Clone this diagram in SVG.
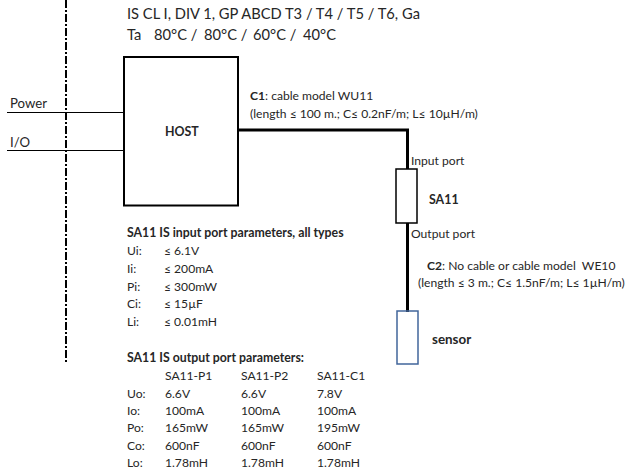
<svg xmlns="http://www.w3.org/2000/svg" width="630" height="473" viewBox="0 0 630 473">
<style>
text{font-family:Lato,"Liberation Sans",sans-serif;fill:#262626}
.h{font-size:14.7px}
.m{font-size:13.2px}
.s{font-size:12.1px}
.b{font-weight:700}
.w{fill:none;stroke:#000;stroke-width:1}
.t{fill:none;stroke:#000;stroke-width:3}
.n{fill:#fff;stroke:#000}
</style>
<g id="connectors">
<line x1="66" y1="0" x2="66" y2="363" stroke="#000" stroke-width="2" stroke-dasharray="8 2 2 2" fill="none"/>
<line class="w" x1="7" y1="112.500" x2="124" y2="112.500"/>
<line class="w" x1="7" y1="150.500" x2="124" y2="150.500"/>
<polyline class="t" points="238,130 407.500,130 407.500,169"/>
<line class="t" x1="407.500" y1="223" x2="407.500" y2="312"/>
</g>
<g id="host"><rect class="n" x="124" y="57" width="114" height="148.500" stroke-width="2"/><text class="s b" x="165" y="136" style="font-size:12.4px">HOST</text></g>
<g id="sa11"><rect class="n" x="396" y="169" width="21" height="54" stroke="#262626" stroke-width="1.500"/><text class="s b" x="429" y="204" style="font-size:12.4px">SA11</text></g>
<g id="sensor"><rect x="397" y="311" width="21" height="53" fill="none" stroke="#41659b" stroke-width="1.500"/><text class="s b" x="432" y="344" style="font-size:13.4px">sensor</text></g>
<g id="labels">
<text class="h" x="127" y="19">IS CL I, DIV 1, GP ABCD T3 / T4 / T5 / T6, Ga</text>
<text class="h" x="127" y="40">Ta<tspan x="154">80°C /</tspan><tspan x="204">80°C /</tspan><tspan x="253">60°C /</tspan><tspan x="303">40°C</tspan></text>
<text class="m" x="10" y="108">Power</text>
<text class="m" x="10" y="147">I/O</text>
<text class="s" x="250" y="100"><tspan class="b">C1</tspan>: cable model WU11</text>
<text class="s" x="250" y="118">(length ≤ 100 m.; C≤ 0.2nF/m; L≤ 10µH/m)</text>
<text class="s" x="411" y="165">Input port</text>
<text class="s" x="411" y="238">Output port</text>
<text class="s" x="427" y="270"><tspan class="b">C2</tspan>: No cable or cable model&#160;&#160;WE10</text>
<text class="s" x="418" y="287">(length ≤ 3 m.; C≤ 1.5nF/m; L≤ 1µH/m)</text>
<text class="s b" x="127" y="237" style="font-size:12.3px">SA11 IS input port parameters, all types</text>
<text class="s" x="127" y="255">Ui:</text><text class="s" x="164" y="255">≤ 6.1V</text>
<text class="s" x="127" y="273">Ii:</text><text class="s" x="164" y="273">≤ 200mA</text>
<text class="s" x="127" y="291">Pi:</text><text class="s" x="164" y="291">≤ 300mW</text>
<text class="s" x="127" y="308">Ci:</text><text class="s" x="164" y="308">≤ 15µF</text>
<text class="s" x="127" y="326">Li:</text><text class="s" x="164" y="326">≤ 0.01mH</text>
<text class="s b" x="127" y="362" style="font-size:12.3px">SA11 IS output port parameters:</text>
<text class="s" x="165" y="380">SA11-P1</text><text class="s" x="241" y="380">SA11-P2</text><text class="s" x="317" y="380">SA11-C1</text>
<text class="s" x="127" y="398">Uo:</text><text class="s" x="165" y="398">6.6V</text><text class="s" x="241" y="398">6.6V</text><text class="s" x="317" y="398">7.8V</text>
<text class="s" x="127" y="415">Io:</text><text class="s" x="165" y="415">100mA</text><text class="s" x="241" y="415">100mA</text><text class="s" x="317" y="415">100mA</text>
<text class="s" x="127" y="432">Po:</text><text class="s" x="165" y="432">165mW</text><text class="s" x="241" y="432">165mW</text><text class="s" x="317" y="432">195mW</text>
<text class="s" x="127" y="450">Co:</text><text class="s" x="165" y="450">600nF</text><text class="s" x="241" y="450">600nF</text><text class="s" x="317" y="450">600nF</text>
<text class="s" x="127" y="467">Lo:</text><text class="s" x="165" y="467">1.78mH</text><text class="s" x="241" y="467">1.78mH</text><text class="s" x="317" y="467">1.78mH</text>
</g>
</svg>
